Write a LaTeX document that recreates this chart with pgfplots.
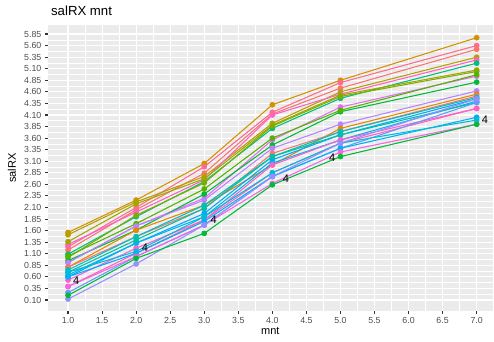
\documentclass[border=0pt]{standalone}
\usepackage{pgfplots}
\pgfplotsset{compat=1.18}
\usepackage{fontspec}
\setmainfont{Liberation Sans}

% ggplot-like hue palette
\definecolor{gA}{HTML}{D39200}
\definecolor{gB}{HTML}{FF6C91}
\definecolor{gC}{HTML}{F8766D}
\definecolor{gD}{HTML}{B79F00}
\definecolor{gE}{HTML}{FF61C3}
\definecolor{gF}{HTML}{00BF7D}
\definecolor{gG}{HTML}{A3A500}
\definecolor{gH}{HTML}{7CAE00}
\definecolor{gI}{HTML}{E76BF3}
\definecolor{gJ}{HTML}{00BA38}
\definecolor{gK}{HTML}{B983FF}
\definecolor{gL}{HTML}{E58700}
\definecolor{gM}{HTML}{00BFC4}
\definecolor{gN}{HTML}{00A9FF}
\definecolor{gO}{HTML}{00B4F0}
\definecolor{gP}{HTML}{00C1A3}
\definecolor{gQ}{HTML}{FD61D1}
\definecolor{gR}{HTML}{FF62BC}
\definecolor{gS}{HTML}{619CFF}
\definecolor{gT}{HTML}{00B0F6}
\definecolor{gU}{HTML}{00BCD8}
\definecolor{gV}{HTML}{F564E3}
\definecolor{gW}{HTML}{9590FF}
\definecolor{gX}{HTML}{53B400}
\definecolor{panel}{HTML}{EBEBEB}
\definecolor{gray30}{HTML}{4D4D4D}
\definecolor{gray20}{HTML}{333333}

\pgfplotsset{ser/.style={color=#1, line width=1.07pt, mark=*, mark size=2.3pt, mark options={solid}}}

\begin{document}
\begin{tikzpicture}
\useasboundingbox (0,0) rectangle (494pt,341pt);
\begin{axis}[
  at={(47.6pt,30pt)}, anchor=south west,
  scale only axis, width=445.4pt, height=286pt,
  xmin=0.7, xmax=7.24, ymin=-0.138, ymax=6.045,
  axis background/.style={fill=panel},
  axis line style={draw=none},
  xtick={1,1.5,...,7}, minor x tick num=1,
  ytick={0.10,0.35,0.60,0.85,1.10,1.35,1.60,1.85,2.10,2.35,2.60,2.85,3.10,3.35,3.60,3.85,4.10,4.35,4.60,4.85,5.10,5.35,5.60,5.85},
  minor y tick num=1,
  grid=both,
  major grid style={white, line width=1.07pt},
  minor grid style={white, line width=0.53pt},
  tick align=outside, tick pos=left,
  major tick length=2.75pt, minor tick length=0pt,
  every tick/.style={gray20, line width=1.07pt},
  x tick label style={font=\fontsize{8.8}{10}\selectfont, text=gray30,
    /pgf/number format/.cd, fixed, fixed zerofill, precision=1, assume math mode=true},
  y tick label style={font=\fontsize{8.8}{10}\selectfont, text=gray30,
    /pgf/number format/.cd, fixed, fixed zerofill, precision=2, assume math mode=true},
  clip=true,
]
\addplot[ser=gA] coordinates {(1,1.56) (2,2.26) (3,3.05) (4,4.32) (5,4.85) (7,5.77)};
\addplot[ser=gB] coordinates {(1,1.25) (2,2.10) (3,2.98) (4,4.16) (5,4.80) (7,5.60)};
\addplot[ser=gC] coordinates {(1,1.18) (2,2.05) (3,2.84) (4,4.12) (5,4.68) (7,5.52)};
\addplot[ser=gD] coordinates {(1,1.51) (2,2.22) (3,2.77) (4,3.92) (5,4.60) (7,5.35)};
\addplot[ser=gE] coordinates {(1,1.30) (2,2.00) (3,2.70) (4,4.10) (5,4.55) (7,5.29)};
\addplot[ser=gF] coordinates {(1,1.09) (2,1.90) (3,2.66) (4,3.81) (5,4.46) (7,5.22)};
\addplot[ser=gG] coordinates {(1,1.36) (2,2.18) (3,2.72) (4,3.88) (5,4.53) (7,5.07)};
\addplot[ser=gH] coordinates {(1,1.02) (2,1.93) (3,2.63) (4,3.86) (5,4.50) (7,5.04)};
\addplot[ser=gI] coordinates {(1,0.91) (2,1.70) (3,2.30) (4,3.56) (5,4.27) (7,4.94)};
\addplot[ser=gJ] coordinates {(1,0.95) (2,1.61) (3,2.39) (4,3.45) (5,4.17) (7,4.81)};
\addplot[ser=gX] coordinates {(1,1.05) (2,1.75) (3,2.50) (4,3.60) (5,4.20) (7,4.97)};
\addplot[ser=gK] coordinates {(1,0.91) (2,1.70) (3,2.26) (4,3.38) (5,3.90) (7,4.62)};
\addplot[ser=gL] coordinates {(1,0.81) (2,1.61) (3,2.15) (4,3.02) (5,3.81) (7,4.55)};
\addplot[ser=gC] coordinates {(1,0.81) (2,1.47) (3,2.08) (4,3.27) (5,3.74) (7,4.51)};
\addplot[ser=gM] coordinates {(1,0.75) (2,1.47) (3,2.15) (4,3.20) (5,3.74) (7,4.48)};
\addplot[ser=gN] coordinates {(1,0.60) (2,1.33) (3,1.97) (4,3.13) (5,3.67) (7,4.45)};
\addplot[ser=gO] coordinates {(1,0.64) (2,1.33) (3,1.90) (4,3.06) (5,3.56) (7,4.40)};
\addplot[ser=gP] coordinates {(1,0.70) (2,1.40) (3,2.08) (4,3.20) (5,3.67) (7,4.37)};
\addplot[ser=gQ] coordinates {(1,0.53) (2,1.22) (3,1.83) (4,3.02) (5,3.56) (7,4.24)};
\addplot[ser=gR] coordinates {(1,0.39) (2,1.11) (3,1.83) (4,2.85) (5,3.49) (7,4.24)};
\addplot[ser=gS] coordinates {(1,0.26) (2,1.04) (3,1.72) (4,2.77) (5,3.38) (7,4.37)};
\addplot[ser=gT] coordinates {(1,0.60) (2,1.11) (3,1.80) (4,2.77) (5,3.38) (7,4.05)};
\addplot[ser=gU] coordinates {(1,0.70) (2,1.15) (3,1.90) (4,2.85) (5,3.49) (7,3.99)};
\addplot[ser=gV] coordinates {(1,0.39) (2,1.04) (3,1.72) (4,2.62) (5,3.30) (7,3.90)};
\addplot[ser=gW] coordinates {(1,0.12) (2,0.88) (3,1.72) (4,2.77) (5,3.49) (7,4.45)};
\addplot[ser=gJ] coordinates {(1,0.20) (2,1.00) (3,1.54) (4,2.59) (5,3.20) (7,3.90)};
% group labels
\node[font=\fontsize{11}{12}\selectfont] at (axis cs:1.12,0.51) {4};
\node[font=\fontsize{11}{12}\selectfont] at (axis cs:2.13,1.22) {4};
\node[font=\fontsize{11}{12}\selectfont] at (axis cs:3.14,1.83) {4};
\node[font=\fontsize{11}{12}\selectfont] at (axis cs:4.20,2.72) {4};
\node[font=\fontsize{11}{12}\selectfont] at (axis cs:4.88,3.18) {4};
\node[font=\fontsize{11}{12}\selectfont] at (axis cs:7.12,4.00) {4};
\end{axis}
\node[anchor=base west, font=\fontsize{13.2}{14}\selectfont] at (47.6pt,325pt) {salRX mnt};
\node[rotate=90, font=\fontsize{11}{12}\selectfont] at (12pt,173pt) {salRX};
\node[anchor=base, font=\fontsize{11}{12}\selectfont] at (270.3pt,7pt) {mnt};
\end{tikzpicture}
\end{document}
